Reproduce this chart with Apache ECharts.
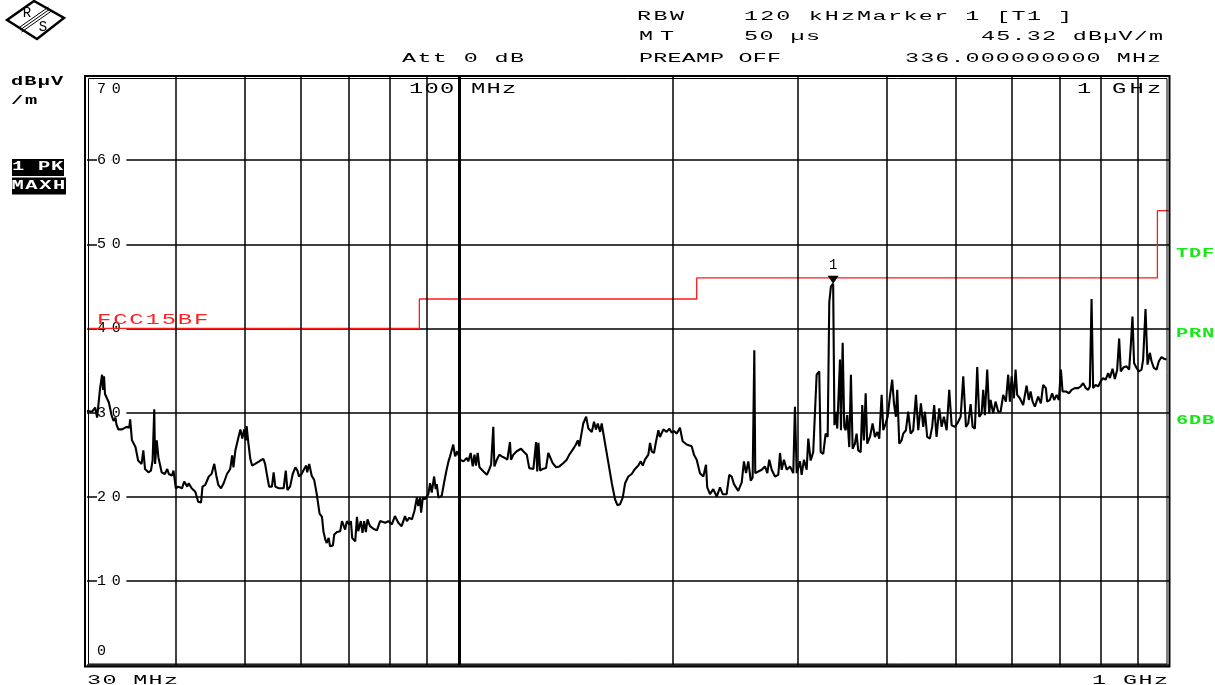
<!DOCTYPE html>
<html>
<head>
<meta charset="UTF-8">
<title>FCC15BF scan</title>
<style>
  body,html{margin:0;padding:0;background:#fff;overflow:hidden;}
  #chart{width:1215px;height:685px;}
</style>
</head>
<body>
<div id="chart"></div>
<script src="https://cdn.jsdelivr.net/npm/echarts/dist/echarts.min.js"></script>
<script>
// peak trace, [frequency MHz, level dBuV/m], split by band
var trace30to75 = [
  [30.0,30.2],[30.5,30.1],[30.8,30.6],[31.0,29.4],[31.1,29.2],[31.3,32.9],[31.5,34.5],[31.6,32.7],[31.7,34.3],[31.8,32.2],
  [32.2,31.2],[32.5,29.6],[32.7,29.0],[32.9,29.4],[33.0,28.6],[33.2,28.0],[33.6,28.0],[34.1,28.3],[34.4,28.2],[34.5,29.2],
  [34.7,26.7],[35.1,25.9],[35.4,24.3],[35.8,23.9],[36.0,25.5],[36.2,23.3],[36.6,22.9],[36.9,23.1],[37.1,24.3],[37.3,30.4],
  [37.4,23.9],[37.6,26.7],[37.8,24.7],[38.2,22.9],[38.6,22.7],[38.9,23.3],[39.1,22.7],[39.5,22.5],[39.7,23.1],[40.0,21.0],
  [40.3,21.2],[40.8,21.0],[41.1,21.8],[41.5,21.2],[41.7,21.6],[42.1,21.0],[42.6,20.6],[43.0,19.4],[43.4,19.3],[43.6,21.2],
  [44.0,21.4],[44.5,22.4],[44.9,22.7],[45.3,23.9],[45.6,22.5],[45.9,21.4],[46.3,21.0],[46.7,21.6],[47.2,22.7],[47.7,23.3],
  [48.0,24.9],[48.2,23.5],[48.5,25.5],[49.0,27.1],[49.3,28.0],[49.6,26.9],[49.9,28.0],[50.2,26.7],[50.3,28.4],[50.6,26.3],
  [50.9,24.5],[51.2,23.7],[51.7,23.9],[52.6,24.3],[53.1,24.5],[53.4,23.9],[53.7,22.7],[54.1,21.2],[54.6,21.2],[54.9,22.9],
  [55.2,21.2],[55.8,21.0],[56.2,21.0],[56.7,21.0],[57.1,23.1],[57.4,20.8],[57.9,21.2],[58.4,22.7],[58.9,23.5],[59.3,23.1],
  [59.6,22.4],[60.1,22.7],[60.6,23.3],[61.0,23.7],[61.2,22.9],[61.6,23.9],[62.1,22.5],[62.6,22.0],[63.1,20.4],[63.7,18.0],
  [64.2,17.6],[64.5,15.9],[64.9,14.9],[65.2,14.5],[65.6,15.1],[65.9,14.1],[66.5,14.2],[66.8,15.5],[67.4,15.8],[68.1,15.9],
  [68.5,17.1],[68.8,16.9],[69.2,16.1],[69.6,17.1],[70.1,16.7],[70.5,17.1],[70.8,15.1],[71.5,14.7],[71.9,17.6],[72.2,15.9],
  [72.8,17.1],[73.2,15.7],[73.6,17.1],[74.0,15.8],[74.4,17.3]
];
var trace75to205 = [
  [75.0,16.5],[75.8,16.2],[76.7,16.0],[77.5,17.1],[78.8,16.9],[79.6,17.1],[80.5,16.7],[81.3,17.7],[82.2,16.9],[83.1,16.5],
  [84.0,17.7],[84.5,17.1],[85.2,17.5],[85.9,17.3],[86.6,18.3],[87.3,19.9],[87.7,18.9],[88.2,19.9],[88.5,18.1],[89.0,19.9],
  [89.6,19.7],[90.6,20.3],[91.1,21.6],[91.6,20.5],[92.3,22.4],[92.8,20.9],[93.1,21.5],[93.6,19.9],[94.6,20.1],[95.3,21.6],
  [96.0,23.0],[96.7,24.2],[97.2,24.8],[97.7,24.6],[98.2,26.2],[98.8,24.8],[99.5,25.4],[100.4,24.4],[101.5,24.2],[102.6,24.6],
  [103.1,24.2],[103.9,25.2],[104.6,23.6],[105.2,25.0],[105.7,23.7],[106.3,25.2],[106.9,23.5],[108.3,23.0],[109.5,22.6],[110.3,23.2],
  [111.0,23.8],[111.8,28.3],[112.2,23.6],[113.1,24.4],[114.0,25.0],[114.9,24.8],[116.1,24.6],[117.0,24.4],[118.0,26.5],[118.4,24.4],
  [119.3,25.0],[120.6,25.4],[122.3,25.7],[123.2,25.4],[124.6,25.0],[125.6,23.4],[127.3,23.3],[128.4,26.5],[128.9,23.0],[129.4,26.4],
  [130.1,23.1],[131.2,23.3],[132.6,23.4],[133.6,25.2],[134.4,25.4],[135.5,24.0],[137.0,23.5],[138.5,23.6],[140.3,24.0],[141.8,24.4],
  [143.0,25.0],[144.6,25.6],[146.1,26.2],[147.0,26.7],[147.7,26.0],[148.9,27.7],[149.6,28.7],[151.0,29.5],[152.1,28.1],[153.8,27.7],
  [154.9,28.9],[155.9,28.0],[156.8,28.7],[158.0,27.7],[158.8,28.7],[160.5,26.4],[162.3,24.0],[164.1,21.6],[165.8,19.7],[167.1,19.0],
  [168.5,19.1],[170.0,19.9],[171.3,21.6],[173.1,22.4],[175.0,22.7],[176.9,23.3],[178.8,23.7],[180.2,24.2],[181.4,23.7],[182.7,24.4],
  [184.7,25.0],[185.7,26.4],[186.7,25.4],[188.1,25.2],[189.3,26.5],[190.8,27.9],[191.8,27.1],[193.9,28.0],[196.0,27.7],[197.7,28.1],
  [199.2,27.6],[200.7,27.8],[202.5,27.5]
];
var trace205to460 = [
  [204.6,28.2],[206.4,26.6],[209.1,26.2],[212.5,26.0],[214.1,25.0],[216.0,24.4],[218.3,22.8],[220.7,22.4],[222.6,23.8],[223.5,21.1],
  [225.5,20.3],[227.9,20.9],[230.5,20.0],[232.9,21.1],[235.0,20.3],[238.0,20.3],[240.0,22.6],[241.9,22.4],[243.7,21.5],[247.1,20.7],
  [249.9,21.7],[251.7,24.2],[253.4,22.8],[255.3,24.2],[257.3,21.9],[258.9,22.3],[260.3,37.4],[261.1,22.8],[263.7,23.0],[266.6,23.2],
  [269.4,23.6],[271.5,22.8],[273.2,24.4],[275.4,23.2],[278.3,22.4],[281.3,22.6],[282.9,25.2],[284.4,23.2],[286.5,24.4],[289.1,23.2],
  [292.2,23.6],[295.3,22.8],[296.9,30.7],[298.6,22.8],[301.8,24.2],[303.4,22.6],[305.7,24.4],[308.4,23.2],[310.0,26.9],[312.4,24.3],
  [315.0,25.3],[318.5,34.5],[321.2,34.9],[322.7,25.3],[325.4,25.1],[327.9,27.5],[330.1,27.1],[331.8,43.1],[333.6,45.0],[336.0,45.32],
  [337.4,28.5],[339.0,30.1],[340.5,28.1],[343.5,36.3],[344.6,27.9],[346.5,38.3],[348.3,28.3],[349.9,27.9],[351.7,29.7],[354.0,25.9],
  [355.9,34.5],[357.9,25.7],[360.5,26.3],[362.5,27.5],[364.4,25.5],[367.3,25.3],[369.2,30.9],[371.2,26.7],[373.3,32.3],[375.2,26.3],
  [378.5,27.1],[381.8,28.7],[384.7,27.1],[387.6,27.7],[390.1,26.9],[393.1,32.1],[395.2,27.9],[398.2,28.7],[400.8,29.5],[403.8,31.9],
  [406.8,33.9],[409.1,31.1],[411.7,29.5],[413.5,32.7],[416.2,26.3],[419.4,26.7],[421.6,27.5],[425.3,27.9],[428.4,30.1],[431.8,27.5],
  [435.4,27.9],[439.3,32.1],[442.6,27.9],[446.4,31.1],[449.8,28.3],[452.3,30.1],[455.6,27.1]
];
var trace460to1000 = [
  [459.6,26.9],[463.0,28.3],[466.0,30.9],[469.6,27.1],[473.7,30.5],[477.4,28.3],[480.9,29.5],[485.2,27.9],[489.3,32.7],[493.1,28.5],
  [498.4,28.3],[503.7,28.9],[507.7,29.5],[512.0,34.3],[516.5,28.3],[520.3,28.7],[524.4,31.0],[527.8,28.3],[531.7,28.1],[535.7,35.4],
  [539.2,29.5],[543.4,29.9],[546.2,32.7],[549.2,29.7],[553.3,35.1],[556.9,29.9],[559.4,31.5],[564.1,29.9],[568.5,31.3],[573.4,30.1],
  [577.8,30.1],[582.7,32.1],[587.8,31.3],[592.2,34.5],[595.5,31.3],[598.8,34.3],[603.3,31.7],[606.5,35.1],[609.7,32.1],[615.0,31.7],
  [621.6,30.9],[628.5,33.2],[633.2,31.5],[636.7,32.5],[640.9,31.3],[645.6,30.7],[652.6,31.9],[658.3,31.1],[663.2,33.3],[669.0,32.9],
  [671.9,31.3],[677.8,31.5],[682.8,32.3],[687.3,31.5],[692.7,32.1],[697.8,31.5],[702.4,35.1],[706.2,32.5],[713.8,32.5],[721.4,32.3],
  [727.1,32.7],[734.9,32.9],[742.8,32.9],[748.6,33.1],[754.9,33.5],[761.5,32.9],[767.3,32.7],[771.4,33.1],[775.7,43.5],[779.7,32.9],
  [785.8,33.3],[792.5,33.1],[798.7,33.7],[805.4,34.1],[811.7,33.9],[818.5,34.7],[823.1,34.1],[830.2,35.2],[836.5,34.0],[842.8,35.1],
  [848.2,38.8],[852.7,34.9],[861.0,35.4],[868.8,35.5],[876.1,35.1],[880.7,37.9],[885.6,41.4],[890.2,35.9],[897.3,35.3],[904.0,34.9],
  [911.9,35.1],[916.7,36.3],[923.8,42.3],[929.8,35.7],[936.8,37.1],[942.0,36.1],[949.1,35.3],[957.4,35.1],[964.5,36.1],[973.0,36.6],
  [980.3,36.4],[988.8,36.3]
];

// FCC 15 class B limit line (stepped)
var limitFreq  = [30, 88, 88, 216, 216, 960, 960, 1000];
var limitLevel = [40, 40, 43.5, 43.5, 46, 46, 54, 54];

// frequency grid lines (MHz) and level ticks (dB)
var gridFreq = [40, 50, 60, 70, 80, 90, 100, 200, 300, 400, 500, 600, 700, 800, 900];
var levelTicks = [0, 10, 20, 30, 40, 50, 60, 70];

var markerFreq = 336;
var markerLevel = 45.32;

var FONT = 'Liberation Mono';
var GL = 87, GT = 76, GW = 1083, GH = 589;

// one rich token per character so the wide instrument spacing can be kept
function spaced(str, key) {
  return str.split('').map(function (c) { return '{' + key + '|' + c + '}'; }).join('');
}

function mono(str, left, right, y, opt) {
  opt = opt || {};
  var size = opt.size || 13;
  var sx = opt.sx || 1.8;
  var ink = opt.ink || 10;
  var n = str.length;
  var pitch = n > 1 ? (right - left - ink) / (n - 1) : 15;
  var col = opt.color || '#000';
  return {
    type: 'text', x: left - 1, y: y, scaleX: sx, silent: true, z: 100,
    style: {
      text: spaced(str, 'c'),
      rich: { c: { width: pitch / sx, fontFamily: FONT, fontSize: size, fontWeight: opt.bold ? 'bold' : 'normal', fill: col } },
      fontFamily: FONT, fontSize: size, fill: col,
      align: 'left', verticalAlign: 'middle'
    }
  };
}

var trace = trace30to75.concat(trace75to205, trace205to460, trace460to1000);
var limit = limitFreq.map(function (f, i) { return [f, limitLevel[i]]; });

var graphics = [
  // double frame
  { type: 'rect', silent: true, z: 50, shape: { x: GL - 2, y: GT, width: GW + 1.5, height: GH + 1.5 }, style: { fill: 'none', stroke: '#000', lineWidth: 2 } },
  { type: 'rect', silent: true, z: 50, shape: { x: GL + 1.5, y: GT + 2.5, width: GW - 4.5, height: GH - 3.5 }, style: { fill: 'none', stroke: '#000', lineWidth: 1 } },

  // R&S logo
  { type: 'polygon', silent: true, shape: { points: [[7, 20], [34, 1], [64, 18], [37, 39]] }, style: { fill: '#fff', stroke: '#000', lineWidth: 2.5 } },
  { type: 'line', silent: true, shape: { x1: 20, y1: 30, x2: 50, y2: 9 }, style: { stroke: '#000', lineWidth: 1 } },
  { type: 'line', silent: true, shape: { x1: 21.5, y1: 32, x2: 51.5, y2: 11 }, style: { stroke: '#000', lineWidth: 1 } },
  { type: 'line', silent: true, shape: { x1: 18.5, y1: 28, x2: 48.5, y2: 7 }, style: { stroke: '#000', lineWidth: 1 } },
  { type: 'text', silent: true, x: 27, y: 13, style: { text: 'R', fontFamily: FONT, fontSize: 14, fill: '#000', align: 'center', verticalAlign: 'middle' } },
  { type: 'text', silent: true, x: 43, y: 27, style: { text: 'S', fontFamily: FONT, fontSize: 14, fill: '#000', align: 'center', verticalAlign: 'middle' } },

  // header
  mono('RBW', 638, 681, 17),
  mono('120 kHz', 745, 852, 17),
  mono('Marker 1 [T1 ]', 858, 1065, 17, { ink: 6 }),
  mono('MT', 640, 671, 37),
  mono('50 µs', 745, 817, 37),
  mono('45.32 dBµV/m', 982, 1160, 37),
  mono('Att 0 dB', 403, 521, 58.5),
  mono('PREAMP OFF', 640, 778, 58.5),
  mono('336.000000000 MHz', 906, 1158, 58.5),

  // frequency labels
  mono('100 MHz', 410, 513, 89, { size: 14, sx: 1.7 }),
  mono('1 GHz', 1078, 1158, 89, { size: 14, sx: 1.7 }),
  mono('30 MHz', 88, 175, 681),
  mono('1 GHz', 1093, 1165, 681),

  // unit and trace info
  mono('dBµV', 12, 63, 82, { size: 12, bold: true, sx: 1.7, ink: 11 }),
  mono('/m', 12, 37, 101, { size: 12, bold: true, sx: 1.7, ink: 11 }),
  { type: 'rect', silent: true, shape: { x: 12, y: 159, width: 52, height: 17 }, style: { fill: '#000' } },
  { type: 'rect', silent: true, shape: { x: 12, y: 177.5, width: 54, height: 17 }, style: { fill: '#000' } },
  mono('1 PK', 13, 63, 167, { size: 12, bold: true, sx: 1.7, ink: 11, color: '#fff' }),
  mono('MAXH', 12.5, 65, 186, { size: 12, bold: true, sx: 1.7, ink: 11, color: '#fff' }),

  // right side flags
  mono('TDF', 1177, 1214, 254, { size: 12, bold: true, sx: 1.7, ink: 11, color: '#19e619' }),
  mono('PRN', 1177, 1214, 334, { size: 12, bold: true, sx: 1.7, ink: 11, color: '#19e619' }),
  mono('6DB', 1177, 1214, 421, { size: 12, bold: true, sx: 1.7, ink: 11, color: '#19e619' }),

  // limit line name
  mono('FCC15BF', 98, 205, 320, { size: 14, sx: 1.7, color: '#ff2020' })
];

var chart = echarts.init(document.getElementById('chart'));
chart.setOption({
  animation: false,
  backgroundColor: '#fff',
  grid: { left: GL, top: GT, width: GW, height: GH, show: false },
  xAxis: {
    type: 'log', logBase: 10, min: 30, max: 1000,
    axisLine: { show: false }, axisTick: { show: false },
    axisLabel: { show: false }, splitLine: { show: false }
  },
  yAxis: {
    type: 'value',
    min: levelTicks[0], max: levelTicks[levelTicks.length - 1], interval: 10,
    axisLine: { show: false }, axisTick: { show: false },
    splitLine: { show: true, lineStyle: { color: '#000', width: 1.5 } },
    axisLabel: {
      inside: true, margin: 10, showMinLabel: true, showMaxLabel: true,
      formatter: function (v) {
        if (v === levelTicks[levelTicks.length - 1]) return spaced(String(v), 't');
        if (v === levelTicks[0]) return spaced(String(v), 'b');
        return spaced(String(v), 'm');
      },
      rich: {
        m: { width: 14.7, height: 16, fontFamily: FONT, fontSize: 15, color: '#000', backgroundColor: '#fff' },
        t: { width: 14.7, fontFamily: FONT, fontSize: 15, color: '#000', padding: [26, 0, 0, 0] },
        b: { width: 14.7, fontFamily: FONT, fontSize: 15, color: '#000', padding: [0, 0, 28, 0] }
      }
    }
  },
  series: [
    {
      name: 'grid', type: 'line', data: [], silent: true, z: 1,
      markLine: {
        silent: true, symbol: ['none', 'none'], animation: false,
        label: { show: false },
        lineStyle: { color: '#000', width: 1.5, type: 'solid' },
        emphasis: { disabled: true },
        data: gridFreq.map(function (f) {
          return f === 100 ? { xAxis: f, lineStyle: { width: 3 } } : { xAxis: f };
        })
      }
    },
    {
      name: 'FCC15BF', type: 'line', data: limit, symbol: 'none', silent: true, z: 4,
      lineStyle: { color: '#ff1a1a', width: 1.3 }
    },
    {
      name: '1 PK MAXH', type: 'line', data: trace, symbol: 'none', silent: true, z: 3,
      lineStyle: { color: '#000', width: 2.1 },
      markPoint: {
        silent: true, symbol: 'triangle', symbolSize: [11, 8], symbolRotate: 180, symbolOffset: [0, -4],
        itemStyle: { color: '#000' },
        label: { show: true, position: 'top', distance: 3, formatter: '1', color: '#000', fontFamily: FONT, fontSize: 14 },
        data: [{ coord: [markerFreq, markerLevel] }]
      }
    }
  ],
  graphic: graphics
});
</script>
</body>
</html>
